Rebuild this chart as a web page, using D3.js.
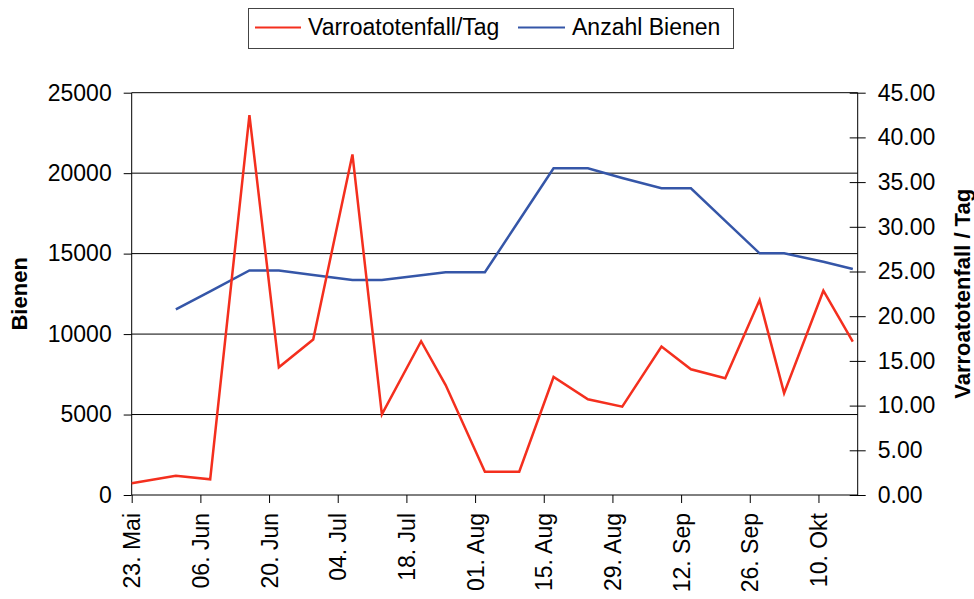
<!DOCTYPE html>
<html>
<head>
<meta charset="utf-8">
<script src="https://cdn.jsdelivr.net/npm/d3@7"></script>
<style>
  body { margin: 0; background: #fff; }
  text { font-family: "Liberation Sans", Arial, sans-serif; fill: #000; }
</style>
</head>
<body>
<script>
// dates of the counts
var dates = ["2010-05-23", "2010-06-01", "2010-06-08", "2010-06-16", "2010-06-22", "2010-06-29",
             "2010-07-07", "2010-07-13", "2010-07-21", "2010-07-26", "2010-08-03", "2010-08-10",
             "2010-08-17", "2010-08-24", "2010-08-31", "2010-09-08", "2010-09-14", "2010-09-21",
             "2010-09-28", "2010-10-03", "2010-10-11", "2010-10-17"];
// Varroatotenfall pro Tag (right axis)
var varroa = [1.31, 2.16, 1.76, 42.5, 14.28, 17.4, 38.1, 9.03, 17.2, 12.3, 2.6, 2.6,
              13.2, 10.7, 9.88, 16.6, 14.06, 13.05, 21.8, 11.4, 22.85, 17.15];
// Anzahl Bienen (left axis)
var bienen = [null, 11540, 12660, 13950, 13950, 13670, 13360, 13360, 13650, 13840, 13840, 17070,
              20300, 20300, 19700, 19060, 19060, 17040, 15020, 15020, 14500, 14040];
var xTickDates = ["2010-05-23", "2010-06-06", "2010-06-20", "2010-07-04", "2010-07-18", "2010-08-01",
                  "2010-08-15", "2010-08-29", "2010-09-12", "2010-09-26", "2010-10-10"];
var leftTicks = [0, 5000, 10000, 15000, 20000, 25000];
var rightTicks = [0, 5, 10, 15, 20, 25, 30, 35, 40, 45];

var W = 974, H = 599;
var pLeft = 131.7, pRight = 857.7, pTop = 92.7, pBottom = 495;
var fs = 23;

var parse = d3.timeParse("%Y-%m-%d");
var de = d3.timeFormatLocale({
    dateTime: "%A, %e. %B %Y, %X", date: "%d.%m.%Y", time: "%H:%M:%S",
    periods: ["AM", "PM"],
    days: ["Sonntag", "Montag", "Dienstag", "Mittwoch", "Donnerstag", "Freitag", "Samstag"],
    shortDays: ["So", "Mo", "Di", "Mi", "Do", "Fr", "Sa"],
    months: ["Januar", "Februar", "März", "April", "Mai", "Juni", "Juli", "August", "September", "Oktober", "November", "Dezember"],
    shortMonths: ["Jan", "Feb", "Mär", "Apr", "Mai", "Jun", "Jul", "Aug", "Sep", "Okt", "Nov", "Dez"]
});
var fmt = de.format("%d. %b");

var data = dates.map(function(d, i) {
    return { date: parse(d), varroa: varroa[i], bienen: bienen[i] };
});

var svg = d3.select("body").append("svg")
    .attr("width", W).attr("height", H);

var x = d3.scaleTime()
    .domain([parse("2010-05-23"), parse("2010-10-18")])
    .range([pLeft, pRight]);
var yL = d3.scaleLinear().domain([0, 25000]).range([pBottom, pTop]);
var yR = d3.scaleLinear().domain([0, 45]).range([pBottom, pTop]);

// gridlines
svg.append("g").selectAll("line")
    .data(leftTicks.slice(1))
    .enter().append("line")
    .attr("x1", pLeft).attr("x2", pRight)
    .attr("y1", function(d) { return yL(d); })
    .attr("y2", function(d) { return yL(d); })
    .attr("stroke", "#000").attr("stroke-width", 1);

// left axis
var gL = svg.append("g")
    .attr("transform", "translate(" + pLeft + ",0)")
    .call(d3.axisLeft(yL).tickValues(leftTicks).tickSize(8).tickPadding(12).tickFormat(d3.format("d")));
// right axis
var gR = svg.append("g")
    .attr("transform", "translate(" + pRight + ",0)")
    .call(d3.axisRight(yR).tickValues(rightTicks).tickSize(8).tickPadding(12).tickFormat(d3.format(".2f")));
gR.selectAll(".tick line").attr("x1", -8);
// bottom axis
var gB = svg.append("g")
    .attr("transform", "translate(0," + pBottom + ")")
    .call(d3.axisBottom(x).tickValues(xTickDates.map(parse)).tickSize(8).tickFormat(fmt));
gB.selectAll(".tick text")
    .attr("transform", "rotate(-90)")
    .attr("text-anchor", "end")
    .attr("x", -18).attr("y", 0).attr("dy", "0.35em");

[gL, gR, gB].forEach(function(g) {
    g.selectAll("path, line").attr("stroke", "#000");
    g.selectAll("path").attr("d", null);
    g.selectAll("text").style("font-size", fs + "px").attr("fill", "#000")
        .style("font-family", "'Liberation Sans', Arial, sans-serif");
});
// axis lines
svg.append("line").attr("x1", pLeft).attr("x2", pLeft).attr("y1", pTop).attr("y2", pBottom).attr("stroke", "#000");
svg.append("line").attr("x1", pRight).attr("x2", pRight).attr("y1", pTop).attr("y2", pBottom).attr("stroke", "#000");
svg.append("line").attr("x1", pLeft).attr("x2", pRight).attr("y1", pBottom).attr("y2", pBottom).attr("stroke", "#000");

// lines
var lineB = d3.line()
    .defined(function(d) { return d.bienen != null; })
    .x(function(d) { return x(d.date); })
    .y(function(d) { return yL(d.bienen); });
var lineV = d3.line()
    .x(function(d) { return x(d.date); })
    .y(function(d) { return yR(d.varroa); });

svg.append("path").datum(data)
    .attr("d", lineB).attr("fill", "none")
    .attr("stroke", "#3556a8").attr("stroke-width", 2.5);
svg.append("path").datum(data)
    .attr("d", lineV).attr("fill", "none")
    .attr("stroke", "#f42f1e").attr("stroke-width", 2.5);

// axis titles
svg.append("text")
    .attr("transform", "translate(27," + (pTop + pBottom) / 2 + ") rotate(-90)")
    .attr("text-anchor", "middle")
    .style("font-size", "22px").style("font-weight", "bold")
    .text("Bienen");
svg.append("text")
    .attr("transform", "translate(970," + (pTop + pBottom) / 2 + ") rotate(-90)")
    .attr("text-anchor", "middle")
    .style("font-size", "22px").style("font-weight", "bold")
    .text("Varroatotenfall / Tag");

// legend
var lg = svg.append("g");
lg.append("rect")
    .attr("x", 248.5).attr("y", 8.5).attr("width", 485).attr("height", 40)
    .attr("fill", "#fff").attr("stroke", "#444").attr("stroke-width", 1);
lg.append("line").attr("x1", 255).attr("x2", 301).attr("y1", 27.5).attr("y2", 27.5)
    .attr("stroke", "#f42f1e").attr("stroke-width", 2);
lg.append("text").attr("x", 308).attr("y", 35).style("font-size", fs + "px").text("Varroatotenfall/Tag");
lg.append("line").attr("x1", 518).attr("x2", 565).attr("y1", 27.5).attr("y2", 27.5)
    .attr("stroke", "#3556a8").attr("stroke-width", 2);
lg.append("text").attr("x", 572).attr("y", 35).style("font-size", fs + "px").text("Anzahl Bienen");
</script>
</body>
</html>
